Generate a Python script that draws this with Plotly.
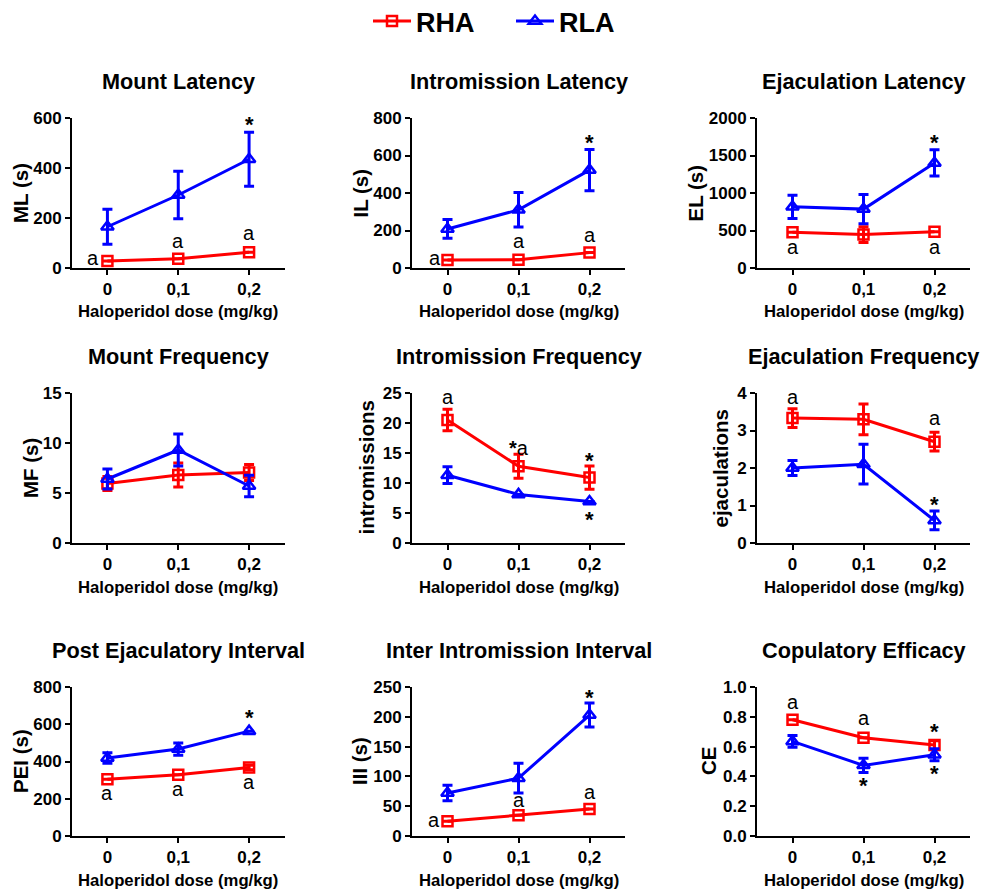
import plotly.graph_objects as go

# ---------------- data ----------------
doses = [0, 0.1, 0.2]
dose_labels = ["0", "0,1", "0,2"]

panel_titles = ["Mount Latency", "Intromission Latency", "Ejaculation Latency",
                "Mount Frequency", "Intromission Frequency", "Ejaculation Frequency",
                "Post Ejaculatory Interval", "Inter Intromission Interval", "Copulatory Efficacy"]
y_titles = ["ML (s)", "IL (s)", "EL (s)", "MF (s)", "intromissions", "ejaculations",
            "PEI (s)", "III (s)", "CE"]
y_max = [600, 800, 2000, 15, 25, 4, 800, 250, 1.0]
y_step = [200, 200, 500, 5, 5, 1, 200, 50, 0.2]

# means and SEM (error bars smaller than the symbol are not visible -> 0)
rha_ml = [28, 37, 63];        rha_ml_err = [0, 0, 0]
rla_ml = [165, 292, 435];     rla_ml_err = [70, 95, 108]
rha_il = [42, 44, 82];        rha_il_err = [0, 0, 0]
rla_il = [208, 310, 522];     rla_il_err = [50, 92, 110]
rha_el = [475, 445, 482];     rha_el_err = [0, 105, 0]
rla_el = [815, 785, 1400];    rla_el_err = [155, 195, 175]
rha_mf = [5.95, 6.8, 7.05];   rha_mf_err = [0.7, 1.2, 0.8]
rla_mf = [6.4, 9.3, 5.7];     rla_mf_err = [1.0, 1.6, 1.07]
rha_if = [20.5, 12.8, 10.9];  rha_if_err = [1.8, 2.0, 1.95]
rla_if = [11.3, 8.1, 6.9];    rla_if_err = [1.4, 0, 0]
rha_ef = [3.33, 3.3, 2.7];    rha_ef_err = [0.25, 0.41, 0.25]
rla_ef = [2.0, 2.1, 0.6];     rla_ef_err = [0.2, 0.53, 0.25]
rha_pei = [305, 329, 368];    rha_pei_err = [0, 0, 12]
rla_pei = [419, 467, 563];    rla_pei_err = [28, 33, 0]
rha_iii = [24.6, 34.7, 45.3]; rha_iii_err = [0, 0, 0]
rla_iii = [72, 97, 203];      rla_iii_err = [13, 25, 20]
rha_ce = [0.78, 0.66, 0.61];  rha_ce_err = [0, 0, 0.03]
rla_ce = [0.635, 0.474, 0.545]; rla_ce_err = [0.04, 0.047, 0.04]

rha_means = [rha_ml, rha_il, rha_el, rha_mf, rha_if, rha_ef, rha_pei, rha_iii, rha_ce]
rha_errs = [rha_ml_err, rha_il_err, rha_el_err, rha_mf_err, rha_if_err, rha_ef_err,
            rha_pei_err, rha_iii_err, rha_ce_err]
rla_means = [rla_ml, rla_il, rla_el, rla_mf, rla_if, rla_ef, rla_pei, rla_iii, rla_ce]
rla_errs = [rla_ml_err, rla_il_err, rla_el_err, rla_mf_err, rla_if_err, rla_ef_err,
            rla_pei_err, rla_iii_err, rla_ce_err]

# significance labels per panel: (dose, value, label)
sig_labels = [
    [(-0.02, 33, "a"), (0.1, 102, "a"), (0.2, 133, "a"), (0.2, 584, "*")],
    [(-0.018, 44, "a"), (0.1, 136, "a"), (0.2, 168, "a"), (0.2, 681, "*")],
    [(0, 252, "a"), (0.2, 252, "a"), (0.2, 1704, "*")],
    [],
    [(0, 24.05, "a"), (0.1, 16.1, "*a"), (0.2, 14.05, "*"), (0.2, 4.3, "*")],
    [(0, 3.85, "a"), (0.2, 3.27, "a"), (0.2, 1.09, "*")],
    [(0, 218, "a"), (0.1, 242, "a"), (0.2, 281, "a"), (0.2, 648, "*")],
    [(-0.019, 23.5, "a"), (0.1, 57, "a"), (0.2, 71, "a"), (0.2, 236, "*")],
    [(0, 0.888, "a"), (0.1, 0.781, "a"), (0.2, 0.714, "*"), (0.1, 0.351, "*"), (0.2, 0.43, "*")],
]

# ---------------- layout geometry ----------------
# the page body has an 8 px margin: the figure starts at (8, 8) of the window
OFF = 8
W, H = 988 - OFF, 891 - OFF
col_px = [(72, 284.5), (412, 625), (757, 970)]     # window pixels
row_px = [(118, 268), (393, 543), (687, 836)]
ytitle_off = [51, 51.5, 61.5, 42, 46.5, 37.5, 51.5, 52.5, 48.5]


def fx(px):
    return (px - OFF) / W


def fy(py):
    return 1 - (py - OFF) / H


FONT = "Liberation Sans, Arial, sans-serif"
RED = "#ff0000"
BLUE = "#0000ff"

fig = go.Figure()
layout = dict(
    width=W, height=H, margin=dict(l=0, r=0, t=0, b=0, autoexpand=False),
    paper_bgcolor="white", plot_bgcolor="white",
    font=dict(family=FONT, color="black"),
    showlegend=True,
    legend=dict(orientation="h", x=fx(368), xanchor="left", y=fy(21.5), yanchor="middle",
                font=dict(family=FONT, size=27, color="black", weight="bold"),
                bgcolor="rgba(0,0,0,0)", itemwidth=38, entrywidth=90, tracegroupgap=0),
)
annotations = []

for i in range(9):
    r, c = divmod(i, 3)
    n = "" if i == 0 else str(i + 1)
    xa, ya = "x" + n, "y" + n
    x0, x1 = col_px[c]
    yt, yb = row_px[r]
    ticks_y = []
    v = 0.0
    while v <= y_max[i] + 1e-9:
        ticks_y.append(round(v, 6))
        v += y_step[i]
    layout["xaxis" + n] = dict(
        domain=[fx(x0), fx(x1)], anchor=ya, range=[-0.05, 0.25], automargin=False,
        tickvals=doses, ticktext=dose_labels, showline=True, linecolor="black", linewidth=2,
        ticks="outside", ticklen=5, tickwidth=2, tickcolor="black", showgrid=False,
        zeroline=False, tickfont=dict(family=FONT, size=17, weight="bold", color="black"),
        fixedrange=True,
    )
    layout["yaxis" + n] = dict(
        domain=[fy(yb), fy(yt)], anchor=xa, range=[0, y_max[i]], automargin=False,
        tickvals=ticks_y, tickformat=".1f" if y_max[i] == 1.0 else "d",
        showline=True, linecolor="black", linewidth=2,
        ticks="outside", ticklen=5, tickwidth=2, tickcolor="black", showgrid=False,
        zeroline=False, tickfont=dict(family=FONT, size=17, weight="bold", color="black"),
        fixedrange=True,
    )
    fig.add_trace(go.Scatter(
        x=doses, y=rha_means[i], xaxis=xa, yaxis=ya, name="RHA", mode="lines+markers",
        line=dict(color=RED, width=3), legendgroup="RHA", showlegend=(i == 0),
        marker=dict(symbol="square-open", size=10, color=RED, line=dict(width=2.5, color=RED)),
        error_y=dict(type="data", array=rha_errs[i], color=RED, thickness=3, width=5),
        cliponaxis=False,
    ))
    fig.add_trace(go.Scatter(
        x=doses, y=rla_means[i], xaxis=xa, yaxis=ya, name="RLA", mode="lines+markers",
        line=dict(color=BLUE, width=3), legendgroup="RLA", showlegend=(i == 0),
        marker=dict(symbol="triangle-up-open", size=11, color=BLUE, line=dict(width=2.5, color=BLUE)),
        error_y=dict(type="data", array=rla_errs[i], color=BLUE, thickness=3, width=5),
        cliponaxis=False,
    ))
    # panel title
    annotations.append(dict(text=panel_titles[i], xref=xa + " domain", yref=ya + " domain",
                            x=0.5, y=1, yshift=36.5, xanchor="center", yanchor="middle",
                            showarrow=False, font=dict(family=FONT, size=21.7, weight="bold")))
    # x title
    annotations.append(dict(text="Haloperidol dose (mg/kg)", xref=xa + " domain", yref=ya + " domain",
                            x=0.5, y=0, yshift=-44, xanchor="center", yanchor="middle",
                            showarrow=False, font=dict(family=FONT, size=16.7, weight="bold")))
    # y title
    annotations.append(dict(text=y_titles[i], xref=xa + " domain", yref=ya + " domain",
                            x=0, y=0.5, xshift=-ytitle_off[i], xanchor="center", yanchor="middle",
                            textangle=-90, showarrow=False,
                            font=dict(family=FONT, size=20.5, weight="bold")))
    for (dx, dy, lab) in sig_labels[i]:
        if lab == "*":
            txt, fnt, ysh = "<b>*</b>", dict(family=FONT, size=22), -2
        elif lab == "*a":
            txt, fnt, ysh = "<b>*</b>a", dict(family=FONT, size=20), -2
        else:
            txt, fnt, ysh = "a", dict(family=FONT, size=20), 2
        annotations.append(dict(text=txt, xref=xa, yref=ya, x=dx, y=dy, yshift=ysh,
                                xanchor="center", yanchor="middle", showarrow=False, font=fnt))

layout["annotations"] = annotations
fig.update_layout(**layout)
fig.write_html("out.html")
